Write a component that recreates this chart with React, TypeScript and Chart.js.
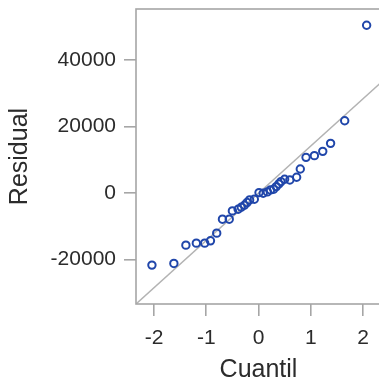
import React, { useEffect, useRef } from "react";
import { Chart, registerables } from "chart.js";
Chart.register(...registerables);

const quantiles = [-2.04, -1.62, -1.39, -1.19, -1.03, -0.92, -0.8, -0.69, -0.56, -0.5, -0.39, -0.33, -0.27, -0.22, -0.17, -0.08, 0.01, 0.09, 0.17, 0.23, 0.29, 0.34, 0.39, 0.43, 0.5, 0.6, 0.73, 0.8, 0.91, 1.07, 1.23, 1.38, 1.65, 2.07];
const residuals = [-21700, -21200, -15700, -15100, -15100, -14400, -12100, -7900, -7900, -5400, -4900, -4300, -3700, -2900, -2100, -1900, 100, -100, 300, 900, 1100, 1900, 2700, 3400, 4100, 3900, 4700, 7200, 10700, 11200, 12500, 14900, 21700, 50400];
const xTicks = [-2, -1, 0, 1, 2];
const yTicks = [-20000, 0, 20000, 40000];
const xRange = [-2.345, 2.345];
const yRange = [-33400, 55300];
const refSlope = 14200;
const refIntercept = -100;

const FONT = "Arial, 'Liberation Sans', sans-serif";
const AXIS_GRAY = "#a6a6a6";
const TEXT = "#2b2b2b";

export default function App() {
  const ref = useRef<HTMLCanvasElement>(null);
  useEffect(() => {
    if (!ref.current) return;
    const frame = {
      id: "frame",
      afterDatasetsDraw(chart: any) {
        const { ctx } = chart;
        const { left, top, right, bottom } = chart.chartArea;
        ctx.save();
        ctx.strokeStyle = AXIS_GRAY;
        ctx.lineWidth = 1.6;
        ctx.strokeRect(left, top, right - left, bottom - top);
        ctx.restore();
      },
    };
    const chart = new Chart(ref.current, {
      type: "scatter",
      data: {
        datasets: [
          {
            type: "scatter",
            data: quantiles.map((x, i) => ({ x, y: residuals[i] })),
            pointStyle: "circle",
            pointRadius: 3.7,
            borderWidth: 2,
            borderColor: "#2046aa",
            backgroundColor: "rgba(0,0,0,0)",
            order: 1,
          },
          {
            type: "line",
            data: xRange.map((x) => ({ x, y: refSlope * x + refIntercept })),
            borderColor: "#b3b3b3",
            borderWidth: 1.5,
            pointRadius: 0,
            order: 2,
          } as any,
        ],
      },
      options: {
        responsive: false,
        animation: false,
        layout: { autoPadding: false, padding: { top: 1, right: 19, left: 0, bottom: 0 } },
        plugins: { legend: { display: false }, tooltip: { enabled: false } },
        scales: {
          x: {
            type: "linear",
            min: xRange[0],
            max: xRange[1],
            afterBuildTicks: (s: any) => {
              s.ticks = xTicks.map((v) => ({ value: v }));
            },
            afterFit: (s: any) => {
              s.height = 81;
              s.paddingLeft = 0;
              s.paddingRight = 0;
            },
            grid: { display: true, drawOnChartArea: false, drawTicks: true, tickLength: 12, color: AXIS_GRAY, lineWidth: 1.6 },
            border: { display: false },
            ticks: { font: { family: FONT, size: 21 }, color: TEXT, padding: 10, maxRotation: 0, callback: (v: any) => String(v) },
            title: { display: true, text: "Cuantil", font: { family: FONT, size: 25, lineHeight: 1 }, color: TEXT, padding: { top: 0, bottom: 2 } },
          },
          y: {
            type: "linear",
            min: yRange[0],
            max: yRange[1],
            afterBuildTicks: (s: any) => {
              s.ticks = yTicks.map((v) => ({ value: v }));
            },
            afterFit: (s: any) => {
              s.width = 128;
              s.paddingTop = 0;
              s.paddingBottom = 0;
            },
            grid: { display: true, drawOnChartArea: false, drawTicks: true, tickLength: 12, color: AXIS_GRAY, lineWidth: 1.6 },
            border: { display: false },
            ticks: { font: { family: FONT, size: 21 }, color: TEXT, padding: 8, callback: (v: any) => String(v) },
            title: { display: true, text: "Residual", font: { family: FONT, size: 25, lineHeight: 1 }, color: TEXT, padding: { top: 0, bottom: 0 } },
          },
        },
      },
      plugins: [frame],
    } as any);
    return () => chart.destroy();
  }, []);
  return (
    <div style={{ position: "fixed", left: 8, top: 8, width: 371, height: 377, overflow: "hidden" }}>
      <canvas ref={ref} width={392} height={377} style={{ display: "block", width: 392, height: 377 }} />
    </div>
  );
}
